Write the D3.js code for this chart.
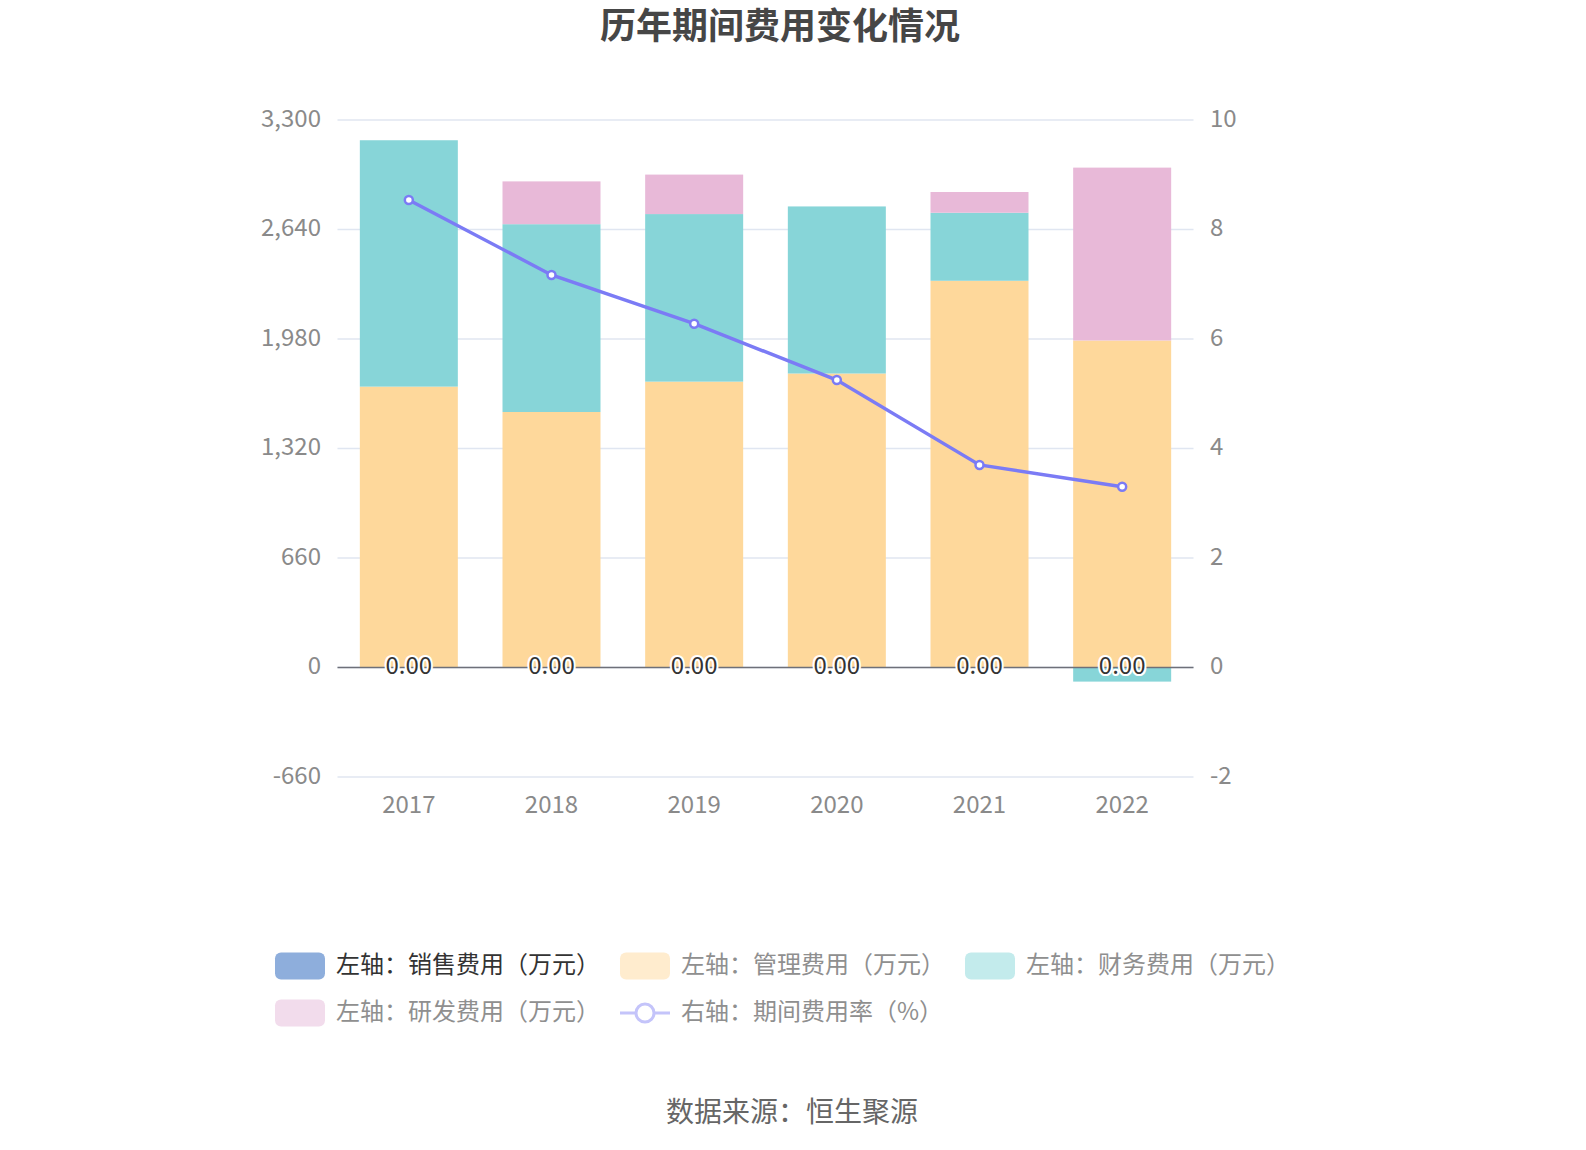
<!DOCTYPE html>
<html>
<head>
<meta charset="utf-8">
<script src="https://cdn.jsdelivr.net/npm/d3@7"></script>
<style>
html,body{margin:0;padding:0;background:#fff;}
svg{display:block;font-family:"Microsoft YaHei","Noto Sans CJK SC","Noto Sans",sans-serif;}
</style>
</head>
<body>
<svg id="chart" width="1586" height="1150"></svg>
<script>
const years = ["2017","2018","2019","2020","2021","2022"];
const salesCost = [0, 0, 0, 0, 0, 0];
const adminCost = [1693, 1540, 1723, 1772, 2331, 1971];
const financeCost = [1485, 1132, 1010, 1007, 410, -85];
const rdCost = [0, 258, 238, 0, 125, 1042];
const expenseRate = [8.54, 7.17, 6.28, 5.25, 3.70, 3.30];
const leftTicks = [-660, 0, 660, 1320, 1980, 2640, 3300];
const rightTicks = [-2, 0, 2, 4, 6, 8, 10];
const seriesNames = ["左轴：销售费用（万元）","左轴：管理费用（万元）","左轴：财务费用（万元）","左轴：研发费用（万元）","右轴：期间费用率（%）"];

const svg = d3.select("#chart");
const L = 337.5, R = 1193.5, T = 120, B = 777;
const x = d3.scaleBand().domain(years).range([L, R]).padding(0);
const yL = d3.scaleLinear().domain([-660, 3300]).range([B, T]);
const yR = d3.scaleLinear().domain([-2, 10]).range([B, T]);
const barW = 98;
const colors = ["#8eaedc", "#fed89b", "#87d5d8", "#e8b9d8"];
const legendColors = ["#8eaedc", "#ffecce", "#c3ebec", "#f2dcec"];
const lineColor = "#7b7bf5";
const fmtL = d => (d < 0 ? "-" : "") + d3.format(",")(Math.abs(d));

// title
svg.append("text").attr("x", 780).attr("y", 29).attr("text-anchor", "middle")
  .attr("dominant-baseline", "middle").attr("font-size", 36).attr("font-weight", "bold")
  .attr("fill", "#464646").text("历年期间费用变化情况");

// grid
svg.append("g").selectAll("line").data(leftTicks).join("line")
  .attr("x1", L).attr("x2", R).attr("y1", d => yL(d)).attr("y2", d => yL(d))
  .attr("stroke", "#e0e6f1").attr("stroke-width", 1.5);

// left axis labels
svg.append("g").selectAll("text").data(leftTicks).join("text")
  .attr("x", 321).attr("y", d => yL(d)).attr("text-anchor", "end")
  .attr("dominant-baseline", "middle").attr("font-size", 24).attr("fill", "#8a8a8a")
  .text(fmtL);
// right axis labels
svg.append("g").selectAll("text").data(rightTicks).join("text")
  .attr("x", 1210).attr("y", d => yR(d)).attr("text-anchor", "start")
  .attr("dominant-baseline", "middle").attr("font-size", 24).attr("fill", "#8a8a8a")
  .text(d => (d < 0 ? "-" : "") + Math.abs(d));

// stacked bars
const series = [salesCost, adminCost, financeCost, rdCost];
const bars = [];
years.forEach((yr, i) => {
  let pos = 0, neg = 0;
  series.forEach((s, k) => {
    const v = s[i];
    if (v >= 0) { bars.push({yr, k, y0: pos, y1: pos + v}); pos += v; }
    else { bars.push({yr, k, y0: neg + v, y1: neg}); neg += v; }
  });
});
svg.append("g").selectAll("rect").data(bars.filter(d => d.y1 !== d.y0)).join("rect")
  .attr("x", d => x(d.yr) + x.bandwidth() / 2 - barW / 2)
  .attr("width", barW)
  .attr("y", d => yL(d.y1))
  .attr("height", d => yL(d.y0) - yL(d.y1))
  .attr("fill", d => colors[d.k]);

// zero axis line
svg.append("line").attr("x1", L).attr("x2", R).attr("y1", yL(0)).attr("y2", yL(0))
  .attr("stroke", "#6e7079").attr("stroke-width", 1.5);

// x labels
svg.append("g").selectAll("text").data(years).join("text")
  .attr("x", d => x(d) + x.bandwidth() / 2).attr("y", 806)
  .attr("text-anchor", "middle").attr("dominant-baseline", "middle")
  .attr("font-size", 24).attr("fill", "#8a8a8a").text(d => d);

// "0.00" labels for sales series
svg.append("g").selectAll("text").data(years).join("text")
  .attr("x", d => x(d) + x.bandwidth() / 2).attr("y", yL(0))
  .attr("text-anchor", "middle").attr("dominant-baseline", "middle")
  .attr("font-size", 24).attr("fill", "#333").attr("stroke", "#fff")
  .attr("stroke-width", 4).attr("paint-order", "stroke")
  .text((d, i) => salesCost[i].toFixed(2));

// line
const line = d3.line().x((d, i) => x(years[i]) + x.bandwidth() / 2).y(d => yR(d));
svg.append("path").datum(expenseRate).attr("d", line).attr("fill", "none")
  .attr("stroke", lineColor).attr("stroke-width", 3.5);
svg.append("g").selectAll("circle").data(expenseRate).join("circle")
  .attr("cx", (d, i) => x(years[i]) + x.bandwidth() / 2).attr("cy", d => yR(d))
  .attr("r", 4).attr("fill", "#fff").attr("stroke", lineColor).attr("stroke-width", 2.5);

// legend
const lg = svg.append("g");
const rows = [[0, 1, 2], [3, 4]];
const rowY = [966, 1013];
rows.forEach((row, ri) => {
  let cx = 275;
  row.forEach(k => {
    const g = lg.append("g");
    if (k < 4) {
      g.append("rect").attr("x", cx).attr("y", rowY[ri] - 13.5).attr("width", 50).attr("height", 27)
        .attr("rx", 6).attr("fill", legendColors[k]);
    } else {
      g.append("line").attr("x1", cx).attr("x2", cx + 50).attr("y1", rowY[ri]).attr("y2", rowY[ri])
        .attr("stroke", "#c4c4fa").attr("stroke-width", 3);
      g.append("circle").attr("cx", cx + 25).attr("cy", rowY[ri]).attr("r", 9)
        .attr("fill", "#fff").attr("stroke", "#c4c4fa").attr("stroke-width", 3);
    }
    const t = g.append("text").attr("x", cx + 61).attr("y", rowY[ri])
      .attr("dominant-baseline", "middle").attr("font-size", 24)
      .attr("fill", k === 0 ? "#333" : "#8f8f8f").text(seriesNames[k]);
    cx = cx + 61 + t.node().getComputedTextLength() + 20;
  });
});

// source
svg.append("text").attr("x", 792).attr("y", 1114).attr("text-anchor", "middle")
  .attr("dominant-baseline", "middle").attr("font-size", 28).attr("fill", "#666")
  .text("数据来源：恒生聚源");
</script>
</body>
</html>
